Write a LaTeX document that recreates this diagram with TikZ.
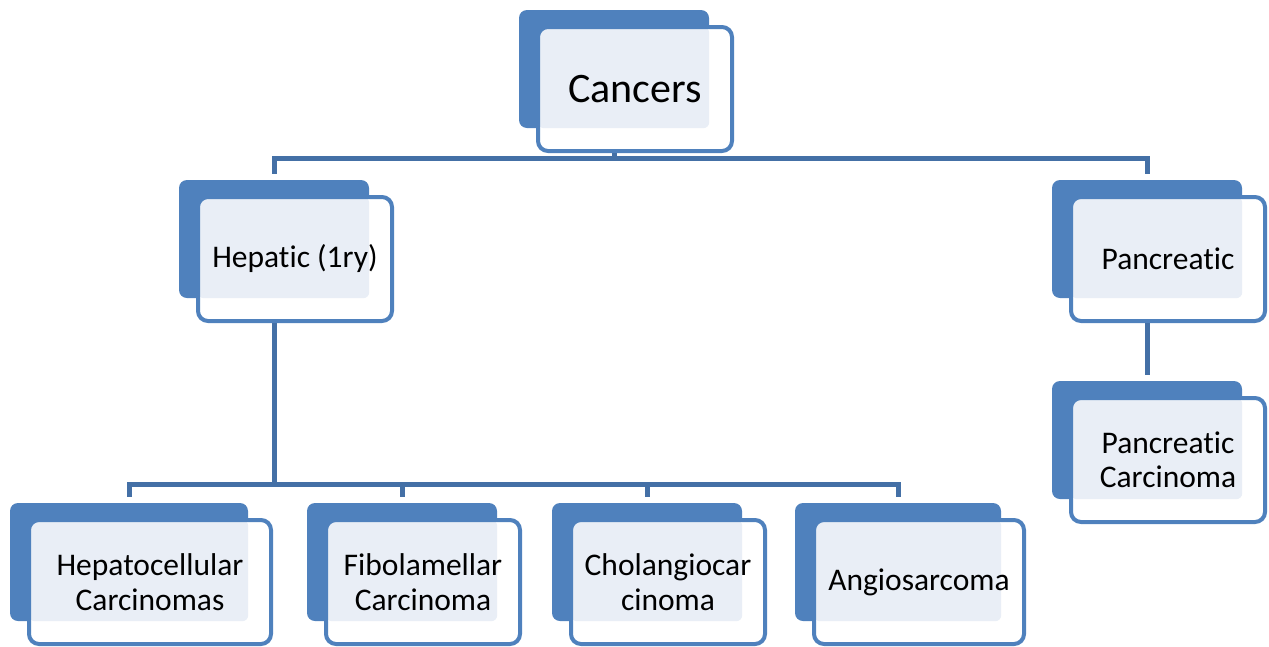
\documentclass[tikz,border=0pt]{standalone}
\usepackage{fontspec}
\setmainfont{Carlito}[RawFeature=-liga]
\usepackage{tikz}
\definecolor{cback}{HTML}{4F81BD}
\definecolor{cedge}{HTML}{4F81BD}
\definecolor{clight}{HTML}{E9EEF6}
\definecolor{clink}{HTML}{4470A6}
\tikzset{
  backbox/.style={fill=cback,rounded corners=8pt,minimum height=118pt,inner sep=0pt},
  frontbox/.style={fill=white,draw=cedge,line width=4pt,rounded corners=10pt,
    minimum height=124pt,inner sep=0pt,align=center,font=\fontsize{31.5}{34.5}\selectfont,
    path picture={\fill[clight,rounded corners=6pt] (path picture bounding box.north west) rectangle (#1-b.south east);}},
  link/.style={draw=clink,line width=5pt}
}

\begin{document}
\begin{tikzpicture}[x=1pt,y=1pt]
\useasboundingbox (0,0) rectangle (1269,-646);

% ===== top level =====
\node[backbox,minimum width=190pt] (can-b) at (614,-69) {};
\node[frontbox=can,minimum width=194pt,font=\fontsize{42}{46}\selectfont] (can) at ([shift={(21,-20)}]can-b.center) {Cancers};

% ===== second level =====
\node[backbox,minimum width=190pt] (hep-b) at (274,-239) {};
\node[frontbox=hep,minimum width=194pt] (hep) at ([shift={(21,-20)}]hep-b.center) {Hepatic (1ry)};
\node[backbox,minimum width=190pt] (pan-b) at (1147,-239) {};
\node[frontbox=pan,minimum width=194pt] (pan) at ([shift={(21,-20)}]pan-b.center) {Pancreatic};
\node[backbox,minimum width=190pt] (panc-b) at (1147,-440) {};
\node[frontbox=panc,minimum width=194pt] (panc) at ([shift={(21,-20)}]panc-b.center) {Pancreatic\\Carcinoma};

% ===== hepatic types =====
\node[backbox,minimum width=238pt] (hcc-b) at (129,-562) {};
\node[frontbox=hcc,minimum width=242pt] (hcc) at ([shift={(21,-20)}]hcc-b.center) {Hepatocellular\\Carcinomas};
\node[backbox,minimum width=190pt] (fib-b) at (402,-562) {};
\node[frontbox=fib,minimum width=194pt] (fib) at ([shift={(21,-20)}]fib-b.center) {Fibolamellar\\Carcinoma};
\node[backbox,minimum width=190pt] (chol-b) at (647,-562) {};
\node[frontbox=chol,minimum width=194pt] (chol) at ([shift={(21,-20)}]chol-b.center) {Cholangiocar\\cinoma};
\node[backbox,minimum width=206pt] (ang-b) at (898,-562) {};
\node[frontbox=ang,minimum width=210pt] (ang) at ([shift={(21,-20)}]ang-b.center) {Angiosarcoma};

% ===== connectors =====
\coordinate (top-bus) at (614,-158);
\coordinate (hep-bus) at (274,-484);
\draw[link] (can-b.south |- can.south) -- (top-bus);
\draw[link,shorten <=6pt,shorten >=6pt] (hep-b.north) |- (top-bus) -| (pan-b.north);
\draw[link,shorten >=6pt] (pan-b.south |- pan.south) -- (panc-b.north);
\draw[link] (hep-b.south |- hep.south) -- (hep-bus);
\draw[link,shorten <=6pt,shorten >=6pt] (hcc-b.north) |- (hep-bus) -| (ang-b.north);
\draw[link,shorten <=6pt] (fib-b.north) -- (fib-b.north |- hep-bus);
\draw[link,shorten <=6pt] (chol-b.north) -- (chol-b.north |- hep-bus);

\end{tikzpicture}
\end{document}
